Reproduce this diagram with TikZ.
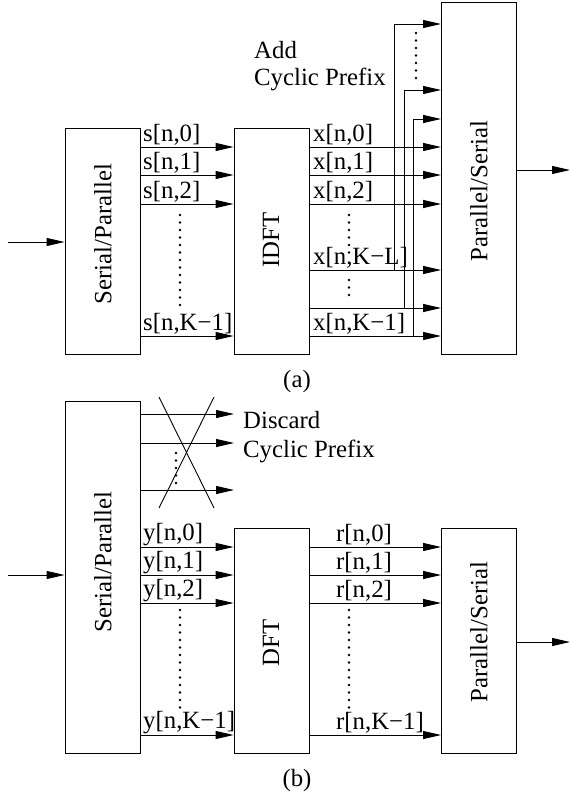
\documentclass[tikz,border=0pt]{standalone}
\usepackage{fontspec}
\setmainfont{Liberation Serif}
\usetikzlibrary{arrows.meta}
\begin{document}
\begin{tikzpicture}[x=1pt,y=-1pt,
  every node/.style={font=\fontsize{24.8}{28}\selectfont},
  box/.style={draw, line width=0.9pt, inner sep=0pt, minimum width=75pt},
  arr/.style={line width=0.9pt, -{Triangle[length=18pt,width=8pt]}},
  ln/.style={line width=0.9pt},
  lab/.style={anchor=south west, inner sep=1pt},
  txt/.style={inner sep=0pt},
  vdots/.style={line width=2.6pt, line cap=round, dash pattern=on 0pt off 7.5pt}]
\useasboundingbox (0,0) rectangle (572,800);

% ---------------- (a) ----------------
\node[box, minimum height=226pt] (sp1) at (102.5,241) {};
\node[txt, rotate=90] (tsp1) at (103,234) {Serial/Parallel};
\node[box, minimum height=226pt] (idft) at (271.5,241) {};
\node[txt, rotate=90] (tidft) at (271,240) {IDFT};
\node[box, minimum height=352pt] (ps1) at (479,178) {};
\node[txt, rotate=90] (tps1) at (479,191) {Parallel/Serial};

\coordinate (in1) at (8,242);
\coordinate (out1) at (570,170);
\draw[arr] (in1) -- (sp1.west |- in1);
\draw[arr] (ps1.east |- out1) -- (out1);

\foreach \y/\t in {147/{s[n,0]},175/{s[n,1]},204/{s[n,2]},336/{s[n,K−1]}}{
  \draw[arr] (sp1.east |- 0,\y) -- (idft.west |- 0,\y);
  \node[lab] at (142,\y) {\t};
}
\foreach \y/\t in {147/{x[n,0]},175/{x[n,1]},204/{x[n,2]},270/{x[n,K−L]},336/{x[n,K−1]}}{
  \draw[arr] (idft.east |- 0,\y) -- (ps1.west |- 0,\y);
  \node[lab] at (312,\y) {\t};
}
\draw[arr] (idft.east |- 0,308) -- (ps1.west |- 0,308);

\coordinate (fb1) at (394,270);
\coordinate (fb2) at (404,308);
\coordinate (fb3) at (413,336);
\draw[arr] (fb1) |- (ps1.west |- 0,24);
\draw[arr] (fb2) |- (ps1.west |- 0,90);
\draw[arr] (fb3) |- (ps1.west |- 0,119);

\draw[vdots] (180,215) -- (180,308);
\draw[vdots] (349,215) -- (349,256);
\draw[vdots] (349,280) -- (349,300);
\draw[vdots] (416,33) -- (416,82);

\node[txt, anchor=base west] (add) at (254,59) {Add};
\node[txt, anchor=base west] (cp1) at (254,85) {Cyclic Prefix};
\node[txt, anchor=base] (capa) at (297,387) {(a)};

% ---------------- (b) ----------------
\node[box, minimum height=352pt] (sp2) at (102.5,577) {};
\node[txt, rotate=90] (tsp2) at (103,562) {Serial/Parallel};
\node[box, minimum height=225pt] (dft) at (271.5,640.5) {};
\node[txt, rotate=90] (tdft) at (271,643) {DFT};
\node[box, minimum height=225pt] (ps2) at (479,640.5) {};
\node[txt, rotate=90] (tps2) at (479,632) {Parallel/Serial};

\coordinate (in2) at (8,575);
\coordinate (out2) at (570,642);
\draw[arr] (in2) -- (sp2.west |- in2);
\draw[arr] (ps2.east |- out2) -- (out2);

\coordinate (d1) at (234,414);
\coordinate (d2) at (234,443);
\coordinate (d3) at (234,490);
\draw[arr] (sp2.east |- d1) -- (d1);
\draw[arr] (sp2.east |- d2) -- (d2);
\draw[arr] (sp2.east |- d3) -- (d3);
\draw[ln] (159,397) -- (214,508);
\draw[ln] (214,397) -- (159,508);
\draw[vdots] (176,453) -- (176,490);

\node[txt, anchor=base west] (disc) at (243,428) {Discard};
\node[txt, anchor=base west] (cp2) at (243,457) {Cyclic Prefix};

\foreach \y/\t in {547/{y[n,0]},575/{y[n,1]},603/{y[n,2]},735/{y[n,K−1]}}{
  \draw[arr] (sp2.east |- 0,\y) -- (dft.west |- 0,\y);
  \node[lab] at (142,\y) {\t};
}
\foreach \y/\t in {547/{r[n,0]},575/{r[n,1]},603/{r[n,2]},735/{r[n,K−1]}}{
  \draw[arr] (dft.east |- 0,\y) -- (ps2.west |- 0,\y);
  \node[lab] at (335,\y) {\t};
}
\draw[vdots] (180,610) -- (180,708);
\draw[vdots] (349,610) -- (349,708);

\node[txt, anchor=base] (capb) at (297,786) {(b)};
\end{tikzpicture}
\end{document}
